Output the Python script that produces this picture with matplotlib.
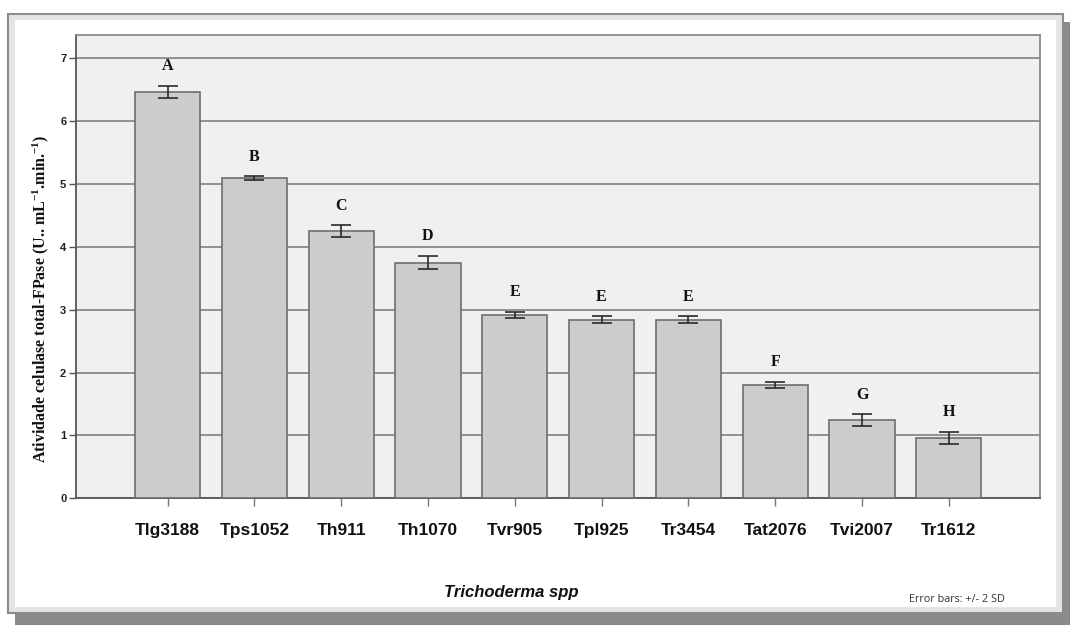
import matplotlib
matplotlib.use('Agg')
import matplotlib.pyplot as plt
from matplotlib import font_manager
from matplotlib.patches import Rectangle

# Dados
cepas = ['Tlg3188', 'Tps1052', 'Th911', 'Th1070', 'Tvr905', 'Tpl925',
         'Tr3454', 'Tat2076', 'Tvi2007', 'Tr1612']
atividade = [6.47, 5.09, 4.25, 3.75, 2.92, 2.84, 2.84, 1.80, 1.245, 0.96]
erro = [0.095, 0.03, 0.09, 0.10, 0.05, 0.055, 0.055, 0.05, 0.09, 0.10]
letras = ['A', 'B', 'C', 'D', 'E', 'E', 'E', 'F', 'G', 'H']
yticks = [0, 1, 2, 3, 4, 5, 6, 7]

nomes = {f.name for f in font_manager.fontManager.ttflist}
narrow = 'Liberation Sans Narrow' if 'Liberation Sans Narrow' in nomes else 'Liberation Sans'
tam_x = 15 if narrow == 'Liberation Sans Narrow' else 12.5

plt.rcParams['mathtext.fontset'] = 'custom'
plt.rcParams['mathtext.rm'] = 'Liberation Serif:bold'
plt.rcParams['mathtext.default'] = 'rm'

W, H = 1070, 625
fig = plt.figure(figsize=(W / 100, H / 100), dpi=100)
fig.patch.set_facecolor('white')

# moldura com sombra
fig.patches.append(Rectangle((15 / W, 0), (W - 15) / W, (H - 22) / H, transform=fig.transFigure,
                             facecolor='#8a8a8a', edgecolor='none', zorder=0))
fig.patches.append(Rectangle((8 / W, (H - 613) / H), 1055 / W, 599 / H, transform=fig.transFigure,
                             facecolor='#e4e4e4', edgecolor='#8c8c8c', linewidth=1.5, zorder=1))
fig.patches.append(Rectangle((15 / W, (H - 607) / H), 1041 / W, 587 / H, transform=fig.transFigure,
                             facecolor='white', edgecolor='none', zorder=2))

ax = fig.add_axes([76 / W, (H - 498.3) / H, 964 / W, 463.3 / H], zorder=3)
ax.set_facecolor('#f0f0f0')

x = list(range(len(cepas)))
ax.bar(x, atividade, width=0.75, color='#cccccc', edgecolor='#6e6e6e', linewidth=1.2, zorder=3)
ax.errorbar(x, atividade, yerr=erro, fmt='none', ecolor='#2a2a2a', elinewidth=1.2,
            capsize=7.5, capthick=1.2, zorder=4)

for xi, v, e, l in zip(x, atividade, erro, letras):
    ax.annotate(l, (xi, v + e), xytext=(0, 8.5), textcoords='offset points',
                ha='center', va='bottom', family='Liberation Serif', fontweight='bold',
                fontsize=11.5, color='#111111')

ax.set_xlim(-1.054, 10.05)
ax.set_ylim(0, 7.37)
ax.set_yticks(yticks)
ax.yaxis.grid(True, color='#8a8a8a', linewidth=1.3, zorder=0)
ax.set_axisbelow(True)

ax.set_xticks(x)
ax.set_xticklabels(cepas, family=narrow, fontweight='bold', fontsize=tam_x, color='#111111')
ax.set_yticklabels([str(t) for t in yticks], family='Liberation Sans', fontweight='bold',
                   fontsize=8, color='#222222')
ax.tick_params(axis='x', length=6, width=1, color='#777777', pad=12)
ax.tick_params(axis='y', length=5, width=1, color='#555555', pad=2)

for s in ['left', 'bottom']:
    ax.spines[s].set_color('#555555')
    ax.spines[s].set_linewidth(1.3)
for s in ['top', 'right']:
    ax.spines[s].set_color('#8a8a8a')
    ax.spines[s].set_linewidth(1.3)

fig.text(41 / W, (H - 299) / H,
         r'Atividade celulase total-FPase (U.. mL$^{-1}$.min.$^{-1}$)',
         rotation=90, ha='center', va='center', family='Liberation Serif',
         fontweight='bold', fontsize=11.5, color='#111111', zorder=5)

fig.text(511 / W, (H - 592) / H, 'Trichoderma spp', ha='center', va='center',
         family='Liberation Sans', fontweight='bold', style='italic', fontsize=12,
         color='#111111', zorder=5)

fig.text(957 / W, (H - 600) / H, 'Error bars: +/- 2 SD', ha='center', va='center',
         family='Open Sans', fontsize=7.8, color='#333333', zorder=5)

fig.savefig('out.png', dpi=100)
